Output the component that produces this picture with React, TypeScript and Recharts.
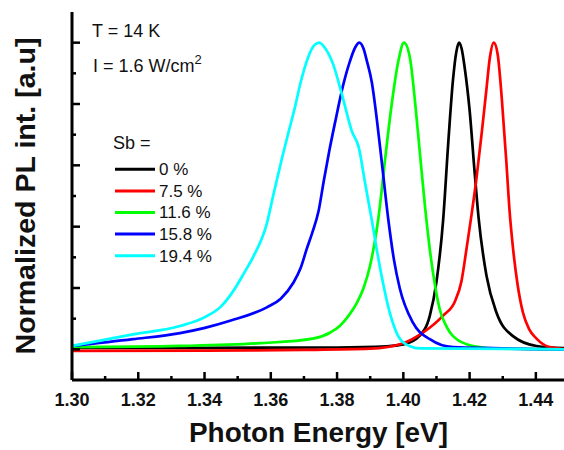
import React from 'react';
import { LineChart, Line, XAxis, YAxis, Label } from 'recharts';

// PL spectra: [photon energy (eV), normalized intensity]
const sb0: [number, number][] = [
  [1.300, 0.005], [1.340, 0.005], [1.380, 0.006], [1.395, 0.010], [1.400, 0.016],
  [1.405, 0.045], [1.408, 0.11], [1.410, 0.22], [1.412, 0.42], [1.4136, 0.68],
  [1.415, 0.88], [1.416, 0.97], [1.4168, 1.0], [1.4176, 0.98], [1.4185, 0.92],
  [1.420, 0.78], [1.4215, 0.58], [1.4227, 0.43], [1.4251, 0.24], [1.4281, 0.12],
  [1.4331, 0.043], [1.4402, 0.011], [1.450, 0.003],
];

const sb75: [number, number][] = [
  [1.300, -0.005], [1.340, -0.004], [1.370, -0.002], [1.390, 0.002], [1.400, 0.02],
  [1.406, 0.055], [1.412, 0.11], [1.4156, 0.157], [1.4175, 0.22], [1.4191, 0.33],
  [1.4206, 0.44], [1.4221, 0.56], [1.4237, 0.71], [1.425, 0.84], [1.4261, 0.95],
  [1.4273, 1.0], [1.4285, 0.96], [1.4297, 0.82], [1.4311, 0.61], [1.432, 0.46],
  [1.4331, 0.33], [1.4345, 0.21], [1.4361, 0.12], [1.438, 0.065], [1.4402, 0.035],
  [1.4442, 0.007], [1.450, 0.0],
];

const sb116: [number, number][] = [
  [1.300, 0.007], [1.3326, 0.011], [1.3567, 0.02], [1.3727, 0.035], [1.378, 0.055],
  [1.3808, 0.076], [1.3835, 0.11], [1.3859, 0.15], [1.388, 0.20], [1.3899, 0.27],
  [1.3912, 0.34], [1.3925, 0.43], [1.3945, 0.62], [1.3965, 0.80], [1.3985, 0.94],
  [1.4002, 1.0], [1.402, 0.95], [1.4036, 0.80], [1.405, 0.64], [1.4066, 0.46],
  [1.4083, 0.30], [1.4097, 0.20], [1.411, 0.13], [1.413, 0.075], [1.415, 0.043],
  [1.421, 0.011], [1.430, 0.002], [1.450, 0.0],
];

const sb158: [number, number][] = [
  [1.300, 0.011], [1.3184, 0.033], [1.3326, 0.053], [1.3401, 0.07], [1.3477, 0.093],
  [1.3588, 0.137], [1.363, 0.165], [1.3668, 0.217], [1.369, 0.265], [1.3708, 0.326],
  [1.3725, 0.38], [1.3744, 0.45], [1.376, 0.55], [1.3777, 0.65], [1.3794, 0.74],
  [1.3818, 0.86], [1.3839, 0.94], [1.3855, 0.985], [1.3867, 1.0], [1.388, 0.98],
  [1.389, 0.94], [1.3905, 0.87], [1.392, 0.75], [1.3935, 0.61], [1.3955, 0.42],
  [1.3972, 0.29], [1.3989, 0.20], [1.4029, 0.087], [1.408, 0.033], [1.415, 0.007],
  [1.450, 0.0],
];

const sb194: [number, number][] = [
  [1.300, 0.011], [1.3184, 0.049], [1.3326, 0.076], [1.3401, 0.105], [1.345, 0.14],
  [1.3486, 0.189], [1.352, 0.25], [1.3546, 0.30], [1.3588, 0.41], [1.3607, 0.50],
  [1.3633, 0.62], [1.3654, 0.71], [1.3673, 0.79], [1.369, 0.87], [1.3712, 0.95],
  [1.373, 0.99], [1.3746, 1.0], [1.3765, 0.98], [1.3788, 0.93], [1.3815, 0.83],
  [1.3845, 0.71], [1.3865, 0.66], [1.3885, 0.54], [1.3905, 0.42], [1.3929, 0.27],
  [1.3959, 0.12], [1.3989, 0.035], [1.402, 0.01], [1.405, 0.003], [1.450, 0.0],
];

const seriesNames = ['0 %', '7.5 %', '11.6 %', '15.8 %', '19.4 %'];
const seriesColors = ['#000000', '#ff0000', '#00ff00', '#0000ff', '#00ffff'];
const seriesData = [sb0, sb75, sb116, sb158, sb194];

const energyTicks = [1.30, 1.31, 1.32, 1.33, 1.34, 1.35, 1.36, 1.37, 1.38, 1.39, 1.40, 1.41, 1.42, 1.43, 1.44, 1.45];
const intensityTicks = [0, 0.1, 0.2, 0.3, 0.4, 0.5, 0.6, 0.7, 0.8, 0.9, 1.0];

const FONT = '"Liberation Sans", Arial, Helvetica, sans-serif';

const series = seriesData.map((pts, i) => ({
  name: seriesNames[i],
  color: seriesColors[i],
  data: pts.map(([e, v]) => ({ e, v })),
}));

const isMajor = (v: number, step: number) => Math.round(v / step) % 2 === 0;

// bottom ticks point inward, labels only on every other tick
const EnergyTick = (props: any) => {
  const { x, y, payload } = props;
  const major = isMajor(payload.value, 0.01);
  return (
    <g>
      <line x1={x} y1={y} x2={x} y2={y - (major ? 8 : 4)} stroke="#000" strokeWidth={2.5} />
      {major && (
        <text x={x} y={y + 26} textAnchor="middle" fontFamily={FONT} fontWeight="bold" fontSize={18} fill="#111">
          {payload.value.toFixed(2)}
        </text>
      )}
    </g>
  );
};

const IntensityTick = (props: any) => {
  const { x, y, payload } = props;
  const major = isMajor(payload.value, 0.1);
  return <line x1={x} y1={y} x2={x + (major ? 8 : 4)} y2={y} stroke="#000" strokeWidth={2.5} />;
};

const XTitle = ({ viewBox }: any) => (
  <text
    x={viewBox.x + viewBox.width / 2 - 2}
    y={viewBox.y + 62}
    textAnchor="middle"
    fontFamily={FONT}
    fontWeight="bold"
    fontSize={27}
    fill="#111"
    textLength={259}
    lengthAdjust="spacingAndGlyphs"
  >
    Photon Energy [eV]
  </text>
);

const YTitle = ({ viewBox }: any) => {
  const cx = 35;
  const cy = viewBox.y + viewBox.height / 2;
  return (
    <text
      x={cx}
      y={cy}
      transform={`rotate(-90 ${cx} ${cy})`}
      textAnchor="middle"
      fontFamily={FONT}
      fontWeight="bold"
      fontSize={28}
      fill="#111"
      textLength={317}
      lengthAdjust="spacingAndGlyphs"
    >
      Normalized PL int. [a.u]
    </text>
  );
};

const Notes = () => (
  <svg width={564} height={450} style={{ position: 'absolute', left: 0, top: 0, pointerEvents: 'none' }}>
    <g fontFamily={FONT} fill="#111">
      <text x={92} y={37} fontSize={18}>T = 14 K</text>
      <text x={93} y={71.5} fontSize={18}>
        I = 1.6 W/cm<tspan dy={-8} fontSize={13}>2</tspan>
      </text>
      <text x={113} y={149} fontSize={18}>Sb =</text>
      {series.map((s, i) => {
        const ly = 169.3 + i * 21.6;
        return (
          <g key={s.name}>
            <line x1={115} y1={ly} x2={155} y2={ly} stroke={s.color} strokeWidth={3} />
            <text x={159} y={ly + 5.8} fontSize={17}>{s.name}</text>
          </g>
        );
      })}
    </g>
  </svg>
);

export default function App() {
  return (
    <div style={{ position: 'absolute', left: 0, top: 0, width: 564, height: 450, overflow: 'hidden', background: '#fff' }}>
      <LineChart width={580} height={450} margin={{ top: 12, right: 11, bottom: 10, left: 12 }}>
        <XAxis
          dataKey="e"
          type="number"
          domain={[1.3, 1.45]}
          ticks={energyTicks}
          interval={0}
          tickSize={0}
          tickMargin={0}
          tickLine={false}
          tick={<EnergyTick />}
          height={60}
          axisLine={{ stroke: '#000', strokeWidth: 3 }}
          allowDataOverflow
        >
          <Label content={<XTitle />} />
        </XAxis>
        <XAxis
          xAxisId="top"
          orientation="top"
          dataKey="e"
          type="number"
          domain={[1.3, 1.45]}
          tick={false}
          tickLine={false}
          height={0}
          axisLine={{ stroke: '#000', strokeWidth: 3 }}
        />
        <YAxis
          type="number"
          domain={[-0.1, 1.1]}
          ticks={intensityTicks}
          interval={0}
          tickSize={0}
          tickMargin={0}
          tickLine={false}
          tick={<IntensityTick />}
          width={60}
          axisLine={{ stroke: '#000', strokeWidth: 3 }}
          allowDataOverflow
        >
          <Label content={<YTitle />} />
        </YAxis>
        {series.map((s) => (
          <Line
            key={s.name}
            data={s.data}
            dataKey="v"
            name={s.name}
            type="monotone"
            stroke={s.color}
            strokeWidth={2.7}
            dot={false}
            activeDot={false}
            isAnimationActive={false}
          />
        ))}
      </LineChart>
      <Notes />
    </div>
  );
}
